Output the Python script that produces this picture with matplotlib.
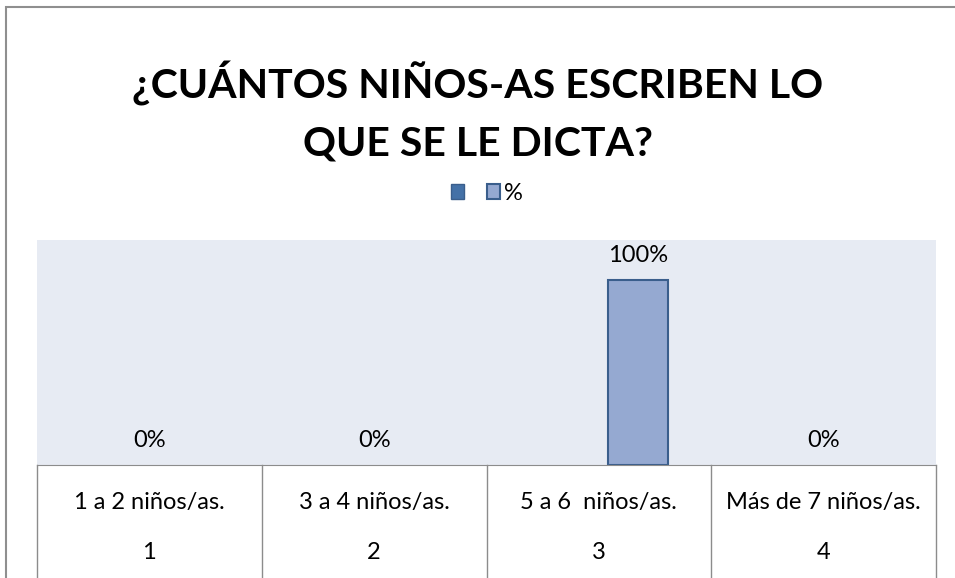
import numpy as np
import matplotlib.pyplot as plt
from matplotlib.patches import Rectangle, Patch

plt.rcParams['font.family'] = ['Lato', 'DejaVu Sans']

categories = ["1 a 2 niños/as.", "3 a 4 niños/as.", "5 a 6  niños/as.", "Más de 7 niños/as."]
numbers = ["1", "2", "3", "4"]
serie_vacia = [0, 0, 0, 0]
porcentaje = [0, 0, 100, 0]
title = "¿CUÁNTOS NIÑOS-AS ESCRIBEN LO\nQUE SE LE DICTA?"

dark = "#4471A7"
light = "#95A9D1"
edge = "#3A5E8C"

fig = plt.figure(figsize=(9.55, 5.78), dpi=100)
ax = fig.add_axes([37/955, 1-465/578, 899/955, 225/578])
ax.set_facecolor("#E7EBF3")

x = np.arange(len(categories))
w = 0.267
off = 0.174
# zero-height bars get no edge so no stray line is drawn on the axis
ax.bar(x - off, serie_vacia, w, color=dark, edgecolor=edge,
       linewidth=[1.5 if v else 0 for v in serie_vacia])
ax.bar(x + off, porcentaje, w, color=light, edgecolor=edge,
       linewidth=[1.5 if v else 0 for v in porcentaje])

for i, v in enumerate(porcentaje):
    xi = x[i] + off if v > 0 else x[i]
    ax.text(xi, v + 13, f"{v}%", ha="center", va="center", fontsize=17)

ax.set_xlim(-0.5, len(categories) - 0.5)
ax.set_ylim(0, 121.6)
ax.set_xticks([])
ax.set_yticks([])
for s in ["top", "left", "right"]:
    ax.spines[s].set_visible(False)
ax.spines["bottom"].set_color("#8C8C8C")

# category separators and two-level labels
for b in np.arange(len(categories) + 1) - 0.5:
    ax.plot([b, b], [0, -70], color="#8C8C8C", lw=1, clip_on=False)
for i in range(len(categories)):
    ax.text(x[i], -20, categories[i], ha="center", va="center", fontsize=17)
    ax.text(x[i], -47.5, numbers[i], ha="center", va="center", fontsize=17)

fig.text(0.5, 1 - 112/578, title, ha="center", va="center", fontsize=29.5,
         fontweight="bold", linespacing=1.65)

handles = [Patch(facecolor=dark, edgecolor=edge, lw=1),
           Patch(facecolor=light, edgecolor=edge, lw=1.5)]
fig.legend(handles, [" ", "%"], loc="center", bbox_to_anchor=(0.51, 1 - 193/578),
           ncol=2, frameon=False, fontsize=17, handlelength=0.55, handleheight=0.6,
           columnspacing=0.5, handletextpad=0.2)

fig.add_artist(Rectangle((6/955, -0.5), 2, 1 - 7/578 + 0.5, transform=fig.transFigure,
                         fill=False, ec="#8F8F8F", lw=1.5))

fig.savefig("out.png", dpi=100)
